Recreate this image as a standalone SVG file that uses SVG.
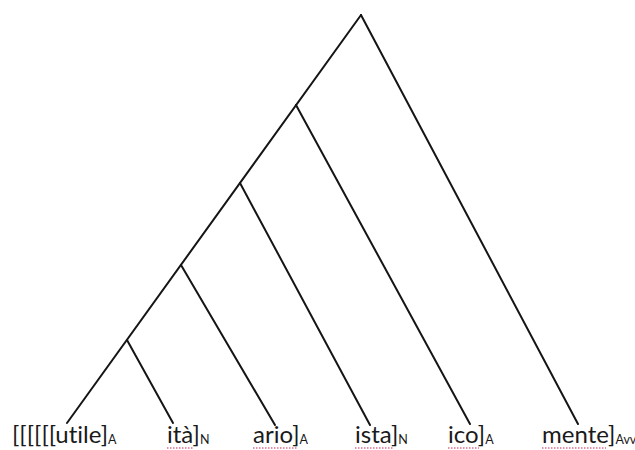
<svg xmlns="http://www.w3.org/2000/svg" width="635" height="450" viewBox="0 0 635 450">
<style>
.e{stroke:#151515;stroke-width:2;fill:none;stroke-linecap:round}
.t{font-family:Lato,"Open Sans",sans-serif;font-size:24px;fill:#1a1a1a;font-variant-ligatures:none}
.s{font-size:12.5px}
.u{stroke:#d9708c;stroke-width:1.5;stroke-dasharray:1.5 1.5;fill:none}
</style>
<rect width="635" height="450" fill="#ffffff"/>
<g id="connectors">
<line class="e" x1="361" y1="15" x2="67" y2="423"/>
<line class="e" x1="361" y1="15" x2="578" y2="424"/>
<line class="e" x1="296" y1="105" x2="470" y2="424"/>
<line class="e" x1="240" y1="183" x2="370" y2="425"/>
<line class="e" x1="181" y1="265" x2="275" y2="425"/>
<line class="e" x1="127" y1="340" x2="173" y2="423"/>
</g>
<g id="utile"><text class="t" x="12" y="443">[[[[[[utile]<tspan class="s" dy="1">A</tspan></text></g>
<g id="ita"><text class="t" x="167" y="443">ità]<tspan class="s" dy="1">N</tspan></text><line class="u" x1="167" y1="448" x2="194" y2="448"/></g>
<g id="ario"><text class="t" x="253" y="443">ario]<tspan class="s" dy="1">A</tspan></text><line class="u" x1="253" y1="448" x2="298" y2="448"/></g>
<g id="ista"><text class="t" x="355" y="443">ista]<tspan class="s" dy="1">N</tspan></text><line class="u" x1="355" y1="448" x2="393" y2="448"/></g>
<g id="ico"><text class="t" x="448" y="443">ico]<tspan class="s" dy="1">A</tspan></text><line class="u" x1="448" y1="448" x2="479" y2="448"/></g>
<g id="mente"><text class="t" x="542" y="443">mente]<tspan class="s" dy="1">Avv</tspan></text><line class="u" x1="542" y1="448" x2="606" y2="448"/></g>
</svg>
